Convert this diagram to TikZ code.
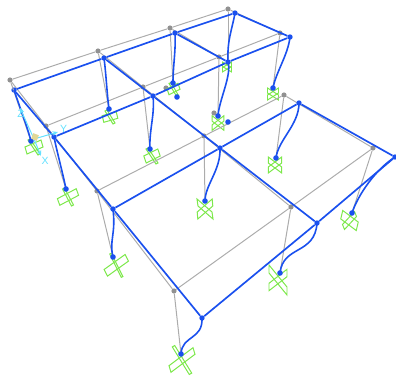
\documentclass[tikz,border=0pt]{standalone}
\usepackage{fontspec}
\setmainfont{Liberation Sans}
\usetikzlibrary{calc,arrows.meta}
\definecolor{frameblue}{RGB}{26,80,238}
\definecolor{framegray}{RGB}{172,172,172}
\definecolor{dotgray}{RGB}{145,145,145}
\definecolor{suppgreen}{RGB}{125,232,75}
\definecolor{axiscyan}{RGB}{100,225,255}
\definecolor{origintan}{RGB}{225,215,150}
\tikzset{
  gdot/.style={circle,fill=dotgray,inner sep=0pt,minimum size=5.2pt},
  bdot/.style={circle,fill=frameblue,inner sep=0pt,minimum size=5.4pt},
  basedot/.style={circle,fill=frameblue,inner sep=0pt,minimum size=5.6pt},
  gline/.style={draw=framegray,line width=1pt},
  bline/.style={draw=frameblue,line width=1.7pt},
  cline/.style={draw=frameblue,line width=1.6pt},
  supp/.style={draw=suppgreen,line width=1pt,line join=miter},
  axis/.style={draw=axiscyan,line width=1pt,-{Stealth[length=5.5pt,width=4.5pt]}},
  axlabel/.style={text=axiscyan,font=\fontsize{10.5}{11}\selectfont,inner sep=0pt}
}
% centre, half-length u1, half-width v1, half-length u2, half-width v2
\newcommand{\suppmark}[5]{%
  \draw[supp] ($(#1)+(#2)+(#3)$) -- ($(#1)+(#2)-(#3)$) -- ($(#1)-(#2)-(#3)$) -- ($(#1)-(#2)+(#3)$) -- cycle;
  \draw[supp] ($(#1)+(#4)+(#5)$) -- ($(#1)+(#4)-(#5)$) -- ($(#1)-(#4)-(#5)$) -- ($(#1)-(#4)+(#5)$) -- cycle;
}
% deformed column from node to node with two control offsets
\newcommand{\colcurve}[4]{%
  \draw[cline] (#1.center) .. controls ($(#1.center)+(#2)$) and ($(#4.center)+(#3)$) .. (#4.center);
}
\begin{document}
\begin{tikzpicture}[x=1bp,y=-1bp]
\useasboundingbox (0,0) rectangle (396,380);
% undeformed joints
\node[gdot] (ga1) at (10,80) {};
\node[gdot] (ga2) at (98,51) {};
\node[gdot] (ga3) at (170,28) {};
\node[gdot] (ga4) at (228,9) {};
\node[gdot] (gb1) at (46,126) {};
\node[gdot] (gb2) at (143,87) {};
\node[gdot] (gb3) at (219,57) {};
\node[gdot] (gb4) at (280,33) {};
\node[gdot] (gc1) at (97,191) {};
\node[gdot] (gc2) at (204,136) {};
\node[gdot] (gc3) at (284,95) {};
\node[gdot] (gd1) at (174,291) {};
\node[gdot] (gd2) at (291,207) {};
\node[gdot] (gd3) at (373,148) {};
\node[gdot] (gx1) at (166,88) {};
\node[gdot] (gx2) at (214,113) {};
% deformed joints and bases
\coordinate (s1) at (34,147);
\coordinate (s2) at (68,197);
\coordinate (s3) at (110,117);
\coordinate (s4) at (152,156);
\coordinate (s5) at (173.5,89);
\coordinate (s6) at (218,123);
\coordinate (s7) at (273,94);
\coordinate (s8) at (227,67);
\coordinate (s9) at (205,209);
\coordinate (s10) at (275,165);
\coordinate (s11) at (116.3,265.3);
\coordinate (s12) at (349.5,220.5);
\coordinate (s13) at (278,280);
\coordinate (s14) at (182,360);
% supports
\suppmark{s1}{8,-3.5}{1,3.5}{5,7.5}{1,-0.5}
\suppmark{s2}{9.4,-5}{1.2,3.3}{4.5,8.5}{1,-0.5}
\suppmark{s3}{7,-2}{0.8,3.3}{4,6.5}{1,-0.5}
\suppmark{s4}{7,-3.5}{1.2,3.5}{5,7.5}{1,-0.5}
\suppmark{s5}{5.5,-2.7}{1,3}{3.5,6}{1,-0.4}
\suppmark{s6}{5.8,4.5}{0,2.7}{5.8,-4.5}{0,2.7}
\suppmark{s7}{5.5,3.5}{0,2.5}{5.5,-3.5}{0,2.5}
\suppmark{s8}{4.5,2.7}{0,2.2}{4.5,-2.7}{0,2.2}
\suppmark{s9}{7.5,6.5}{0.5,3.5}{7.5,-6.5}{0.3,3.5}
\suppmark{s10}{6.7,5}{0,3}{6.7,-5}{0,3}
\suppmark{s11}{10.5,-7.5}{1.7,3.3}{5.8,11.7}{0.8,-0.4}
\suppmark{s12}{7.75,5.8}{1,-4.2}{6,-6.5}{1,2.5}
\suppmark{s13}{9,11}{0,4}{9,-7}{0,3.7}
\suppmark{s14}{12,-9}{1,3.3}{8.5,13.8}{1.2,-0.7}
% undeformed frame
\draw[gline] (ga1) -- (ga2) -- (ga3) -- (ga4);
\draw[gline] (gb1) -- (gb2) -- (gb3) -- (gb4);
\draw[gline] (gc1) -- (gc2) -- (gc3);
\draw[gline] (gd1) -- (gd2) -- (gd3);
\draw[gline] (ga1) -- (gb1) -- (gc1) -- (gd1);
\draw[gline] (ga2) -- (gb2) -- (gc2) -- (gd2);
\draw[gline] (ga3) -- (gb3);
\draw[gline] (ga4) -- (gb4);
\draw[gline] (gc3) -- (gd3);
% blue joints
\node[bdot] (a1) at (14,90) {};
\node[bdot] (a2) at (104,58) {};
\node[bdot] (a3) at (175,33) {};
\node[bdot] (a4) at (235,13) {};
\node[bdot] (b1) at (54,137) {};
\node[bdot] (b2) at (153,96) {};
\node[bdot] (b3) at (228,62) {};
\node[bdot] (b4) at (290,37) {};
\node[bdot] (c1) at (113,209) {};
\node[bdot] (c2) at (220,148) {};
\node[bdot] (c3) at (299,103) {};
\node[bdot] (d1) at (202,318) {};
\node[bdot] (d2) at (317,223) {};
\node[bdot] (d3) at (395,157) {};
\node[basedot] (p1) at (31,141) {};
\node[basedot] (p2) at (66,189) {};
\node[basedot] (p3) at (109,109) {};
\node[basedot] (p4) at (150,149) {};
\node[basedot] (p5) at (173,83) {};
\node[basedot] (p6) at (218,116) {};
\node[basedot] (p7) at (273,88) {};
\node[basedot] (p9) at (205,201) {};
\node[basedot] (p10) at (276,158) {};
\node[basedot] (p11) at (113,257) {};
\node[basedot] (p12) at (352,213) {};
\node[basedot] (p13) at (280,273) {};
\node[basedot] (p14) at (181,354) {};
\node[basedot] (x1) at (177,97) {};
\node[basedot] (x2) at (228,122) {};
% undeformed columns
\draw[gline] (ga1) -- (p1);
\draw[gline] (ga2) -- (p3);
\draw[gline] (ga3) -- (p5);
\draw[gline] (ga4) -- (b3);
\draw[gline] (gb1) -- (p2);
\draw[gline] (gb2) -- (p4);
\draw[gline] (gb3) -- (p6);
\draw[gline] (gb4) -- (p7);
\draw[gline] (gc1) -- (p11);
\draw[gline] (gc2) -- (p9);
\draw[gline] (gc3) -- (p10);
\draw[gline] (gd1) -- (p14);
\draw[gline] (gd2) -- (p13);
\draw[gline] (gd3) -- (p12);
% deformed beams
\draw[bline] (a1) -- (a2) -- (a3) -- (a4);
\draw[bline] (b1) -- (b2) -- (b3) -- (b4);
\draw[bline] (c1) -- (c2) -- (c3);
\draw[bline] (d1) -- (d2) -- (d3);
\draw[bline] (a1) -- (b1) -- (c1) -- (d1);
\draw[bline] (a2) -- (b2) -- (c2) -- (d2);
\draw[bline] (a3) -- (b3);
\draw[bline] (a4) -- (b4);
\draw[bline] (c3) -- (d3);
% deformed columns
\colcurve{a1}{5,15}{-4,-15}{p1}
\colcurve{a2}{2,15}{-2,-15}{p3}
\colcurve{a3}{1,17}{0,-18}{p5}
\colcurve{a4}{-3,17}{-1,-22}{b3}
\colcurve{b1}{3,15}{-3,-15}{p2}
\colcurve{b2}{2,19}{-1,-19}{p4}
\colcurve{b3}{4,13}{1,-16}{p6}
\colcurve{b4}{-2,18}{3,-16}{p7}
\colcurve{c1}{3,26}{-4,-17}{p11}
\colcurve{c2}{1,22}{0,-16}{p9}
\colcurve{c3}{0,22}{2,-18}{p10}
\colcurve{d1}{1,22}{1,-19}{p14}
\colcurve{d2}{-2,32}{3,-28}{p13}
\colcurve{d3}{-20,13}{6,-18}{p12}
% global axes
\coordinate (org) at (34,139);
\coordinate (zt) at (20,108);
\coordinate (yt) at (58,132);
\coordinate (xt) at (41,156);
\draw[axis] (org) -- (zt);
\draw[axis] (org) -- (yt);
\draw[axis] (org) -- (xt);
\node[fill=origintan,inner sep=0pt,minimum size=6pt,rotate=-20] (box) at (35,137) {};
\node[axlabel] (lz) at (20.5,114) {Z};
\node[axlabel] (ly) at (63.5,128.5) {Y};
\node[axlabel] (lx) at (45,161) {X};
\end{tikzpicture}
\end{document}
